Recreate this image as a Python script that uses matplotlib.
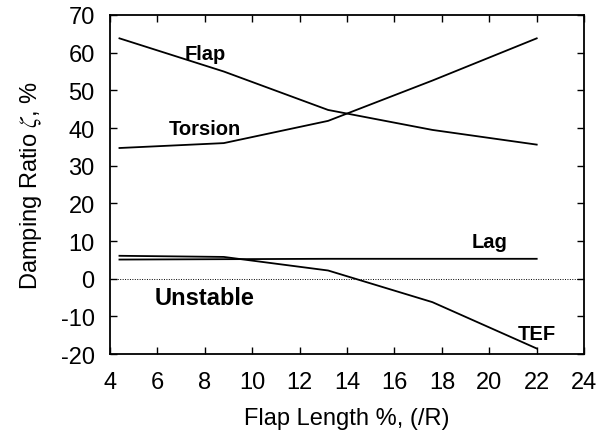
import matplotlib
matplotlib.use("Agg")
import matplotlib.pyplot as plt

plt.rcParams['font.family'] = ['Liberation Sans', 'DejaVu Sans']
plt.rcParams['axes.unicode_minus'] = False
plt.rcParams['mathtext.fontset'] = 'stix'

flap_length = [4.4, 8.8, 13.2, 17.6, 22.0]
flap = [63.8, 55.0, 44.8, 39.5, 35.6]
torsion = [34.7, 36.0, 41.9, 52.6, 63.8]
lag = [5.1, 5.2, 5.3, 5.3, 5.3]
tef = [6.1, 5.8, 2.2, -6.2, -18.5]

fig = plt.figure(figsize=(6.11, 4.39), dpi=100)
ax = fig.add_axes([0.18, 0.191, 0.776, 0.7726])

for s in (flap, torsion, lag, tef):
    ax.plot(flap_length, s, color='black', lw=1.3)
ax.axhline(0, color='black', lw=0.7, ls=(0, (1, 1.5)))

ax.set_xlim(4, 24)
ax.set_ylim(-20, 70)
ax.set_xticks(range(4, 25, 2))
ax.set_yticks(range(-20, 71, 10))
ax.tick_params(direction='in', top=True, right=True, labelsize=17, length=5, width=1)
ax.tick_params(axis='x', pad=12)
ax.tick_params(axis='y', pad=11)
for sp in ax.spines.values():
    sp.set_linewidth(1.3)

ax.set_xlabel('Flap Length %, (/R)', fontsize=17, labelpad=10)
ax.set_ylabel('Damping Ratio $\\zeta$, %', fontsize=17, labelpad=12)

kw = dict(fontsize=14.5, fontweight='bold', ha='center', va='center')
ax.text(8.0, 59.7, 'Flap', **kw)
ax.text(8.0, 40.0, 'Torsion', **kw)
ax.text(20.0, 9.8, 'Lag', **kw)
ax.text(22.0, -14.6, 'TEF', **kw)
ax.text(8.0, -5.0, 'Unstable', fontsize=17, fontweight='bold', ha='center', va='center')

fig.savefig('out.png', dpi=100)
